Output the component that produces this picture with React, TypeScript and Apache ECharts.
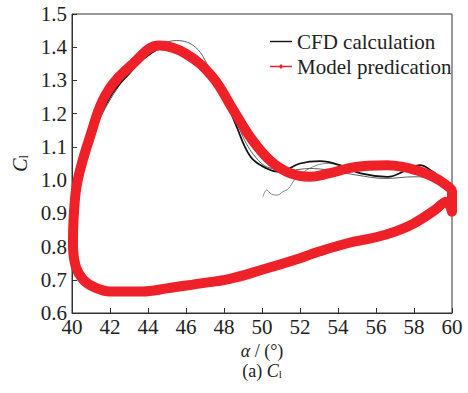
import React, { useEffect, useRef } from "react";
import * as echarts from "echarts";

// ---- Data ----
const xTicks = { min: 40, max: 60, interval: 2 };
const yTicks = { min: 0.6, max: 1.5, interval: 0.1 };

// Model prediction loop (alpha, Cl)
const modelAlpha = [
  40.05, 40.1, 40.3, 41.0, 41.8, 43.2, 44.6, 46.0, 47.4, 48.5, 49.5, 50.5, 51.5, 52.5, 53.5, 54.6,
  55.6, 56.6, 57.4, 58.1, 59.0, 59.7, 60.0, 60.0, 59.7, 59.1, 58.0, 57.0, 56.0, 54.5, 53.0,
  52.0, 50.0, 48.3, 46.5, 45.0, 43.7, 42.0, 41.2, 40.6, 40.2, 40.05,
];
const modelCl = [
  0.8, 0.9, 1.0, 1.14, 1.26, 1.35, 1.405, 1.38, 1.31, 1.21, 1.12, 1.055, 1.02, 1.01, 1.02, 1.036,
  1.043, 1.045, 1.04, 1.03, 1.01, 0.985, 0.965, 0.905, 0.935, 0.91, 0.87, 0.845, 0.828, 0.81,
  0.785, 0.765, 0.73, 0.703, 0.687, 0.674, 0.665, 0.665, 0.677, 0.7, 0.74, 0.8,
];

// CFD calculation, main cycle
const cfdAlpha = [
  40.05, 40.15, 40.4, 41.0, 42.0, 43.0, 44.0, 45.0, 46.0, 47.0, 48.0, 48.6, 49.4, 50.25, 50.9, 52.0,
  53.05, 54.1, 55.2, 56.6, 57.6, 58.3, 59.0, 59.4, 59.8, 60.0, 59.5, 58.0, 57.0, 55.5, 54.5, 53.0,
  52.0, 50.5, 49.0, 47.0, 45.0, 43.5, 42.0, 41.0, 40.4, 40.1, 40.05,
];
const cfdCl = [
  0.85, 0.95, 1.03, 1.13, 1.25, 1.32, 1.375, 1.4, 1.385, 1.33, 1.25, 1.17, 1.07, 1.035, 1.025, 1.05,
  1.057, 1.045, 1.02, 1.01, 1.03, 1.045, 1.025, 1.005, 0.98, 0.95, 0.925, 0.875, 0.85, 0.825, 0.815,
  0.79, 0.77, 0.74, 0.715, 0.7, 0.68, 0.67, 0.668, 0.685, 0.72, 0.78, 0.85,
];

// CFD calculation, other cycle (thin line)
const cfdAlpha2 = [
  40.05, 40.2, 40.5, 41.2, 42.2, 43.3, 44.5, 45.5, 46.5, 47.3, 48.3, 49.0, 49.8, 50.5, 51.5, 52.5,
  53.5, 55.0, 56.5, 58.0, 59.0, 59.6, 60.0, 59.4, 58.0, 56.0, 54.0, 52.0, 50.0, 48.0, 46.0, 44.0,
  42.0, 41.0, 40.3, 40.05,
];
const cfdCl2 = [
  0.85, 0.96, 1.04, 1.15, 1.26, 1.34, 1.4, 1.42, 1.4, 1.33, 1.24, 1.13, 1.06, 1.035, 1.03, 1.035,
  1.03, 1.015, 1.005, 1.01, 1.005, 0.99, 0.95, 0.92, 0.872, 0.83, 0.805, 0.768, 0.735, 0.706, 0.69,
  0.672, 0.668, 0.686, 0.73, 0.85,
];

// CFD initial transient
const cfdStartAlpha = [50.05, 50.25, 50.5, 50.8, 51.1, 51.4, 51.7, 52.2, 52.9, 53.5, 54.1];
const cfdStartCl = [0.95, 0.97, 0.958, 0.955, 0.965, 0.975, 1.0, 1.025, 1.045, 1.05, 1.045];

const legendNames = ["CFD calculation", "Model predication"];

const FONT = "'Liberation Serif', 'Times New Roman', serif";

const zip = (a: number[], b: number[]) => a.map((v, i) => [v, b[i]]);

// legend icons (line, and line with a small diamond marker)
const ICON_LINE = "path://M0,0M22,10M0,4.3H22V5.7H0Z";
const ICON_LINE_MARK = "path://M0,0M22,10M0,4.3H22V5.7H0ZM11,2.6L13.4,5L11,7.4L8.6,5Z";

export default function App() {
  const ref = useRef<HTMLDivElement>(null);

  useEffect(() => {
    document.body.style.margin = "0";
    if (!ref.current) return;
    const chart = echarts.init(ref.current, undefined, { renderer: "svg" });
    const axisText = { fontFamily: FONT, fontSize: 21, color: "#222" };
    const nameText = { fontFamily: FONT, fontSize: 18, color: "#222", lineHeight: 17 };
    chart.setOption({
      animation: false,
      grid: {
        left: 72,
        right: 16,
        top: 14,
        bottom: 80,
        show: true,
        borderColor: "#333",
        borderWidth: 1,
      },
      legend: {
        orient: "vertical",
        left: 265,
        top: 26,
        itemWidth: 22,
        itemHeight: 10,
        itemGap: 4,
        symbolKeepAspect: false,
        data: [
          { name: legendNames[0], icon: ICON_LINE },
          { name: legendNames[1], icon: ICON_LINE_MARK },
        ],
        textStyle: { fontFamily: FONT, fontSize: 21, color: "#222" },
      },
      xAxis: {
        type: "value",
        min: xTicks.min,
        max: xTicks.max,
        interval: xTicks.interval,
        splitLine: { show: false },
        axisLine: { lineStyle: { color: "#333", width: 1 } },
        axisTick: { inside: true, length: 5, lineStyle: { color: "#333" } },
        axisLabel: { ...axisText, margin: 6, lineHeight: 16 },
        name: "{i|α}{n| / (°)}",
        nameLocation: "middle",
        nameGap: 28,
        nameTextStyle: {
          ...nameText,
          rich: {
            i: { ...nameText, fontStyle: "italic" },
            n: { ...nameText },
          },
        },
      },
      yAxis: {
        type: "value",
        min: yTicks.min,
        max: yTicks.max,
        interval: yTicks.interval,
        splitLine: { show: false },
        axisLine: { show: true, lineStyle: { color: "#333", width: 1 } },
        axisTick: { show: true, inside: true, length: 5, lineStyle: { color: "#333" } },
        axisLabel: { ...axisText, margin: 5, lineHeight: 12, formatter: (v: number) => v.toFixed(1) },
        name: "{i|C}{s|l}",
        nameLocation: "middle",
        nameGap: 38,
        nameTextStyle: {
          ...axisText,
          rich: {
            i: { ...axisText, fontSize: 20, fontStyle: "italic", lineHeight: 20 },
            s: { fontFamily: FONT, fontSize: 12, color: "#222", verticalAlign: "bottom", lineHeight: 12, padding: [8, 0, 0, 0] },
          },
        },
      },
      graphic: [
        {
          type: "text",
          x: 262,
          y: 371,
          style: {
            text: "{n|(a) }{i|C}{s|l}",
            align: "center",
            verticalAlign: "middle",
            rich: {
              n: { fontFamily: FONT, fontSize: 18, fill: "#222", lineHeight: 17 },
              i: { fontFamily: FONT, fontSize: 18, fill: "#222", fontStyle: "italic", lineHeight: 17 },
              s: { fontFamily: FONT, fontSize: 11, fill: "#222", verticalAlign: "bottom", lineHeight: 11, padding: [6, 0, 0, 0] },
            },
          },
        },
      ],
      series: [
        {
          name: legendNames[0],
          type: "line",
          data: zip(cfdAlpha2, cfdCl2),
          smooth: 0.4,
          symbol: "none",
          lineStyle: { color: "#333", width: 0.8 },
          itemStyle: { color: "#111" },
          z: 2,
        },
        {
          name: legendNames[0],
          type: "line",
          data: zip(cfdStartAlpha, cfdStartCl),
          smooth: 0.4,
          symbol: "none",
          lineStyle: { color: "#666", width: 0.8 },
          itemStyle: { color: "#111" },
          z: 2,
        },
        {
          name: legendNames[0],
          type: "line",
          data: zip(cfdAlpha, cfdCl),
          smooth: 0.4,
          symbol: "none",
          lineStyle: { color: "#111", width: 1.8 },
          itemStyle: { color: "#111" },
          z: 3,
        },
        {
          name: legendNames[1],
          type: "line",
          data: zip(modelAlpha, modelCl),
          smooth: 0.4,
          symbol: "diamond",
          symbolSize: 6,
          showSymbol: false,
          lineStyle: { color: "#ee2028", width: 10, cap: "round", join: "round" },
          itemStyle: { color: "#ee2028" },
          z: 4,
        },
      ],
    });
    return () => chart.dispose();
  }, []);

  return <div ref={ref} style={{ width: 468, height: 393 }} />;
}
